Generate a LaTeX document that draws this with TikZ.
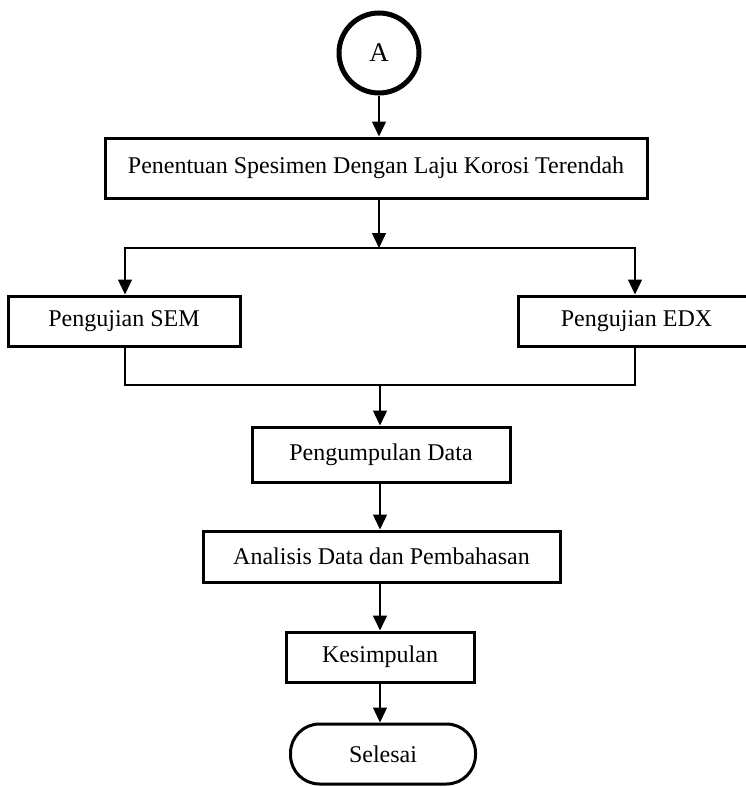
\documentclass[tikz,border=0pt]{standalone}
\usepackage{fontspec}
\setmainfont{Liberation Serif}
\usetikzlibrary{arrows.meta}
\begin{document}
\begin{tikzpicture}[x=1pt,y=-1pt,
  box/.style={draw,line width=3pt,rectangle,inner sep=0pt,font=\fontsize{24}{28}\selectfont},
  conn/.style={line width=1.4pt},
  arr/.style={line width=1.4pt,-{Triangle[width=14pt,length=15pt]}}]
\useasboundingbox (0,0) rectangle (746,787);
\clip (0,0) rectangle (746,787);
\node[draw,circle,line width=5pt,minimum size=80pt,inner sep=0pt,font=\fontsize{27}{30}\selectfont] (a) at (379,53) {A};
\node[box,minimum width=542pt,minimum height=60pt] (top) at (376,168) {Penentuan Spesimen Dengan Laju Korosi Terendah};
\node[box,minimum width=232pt,minimum height=50pt] (sem) at (124,321) {Pengujian SEM};
\node[box,minimum width=237pt,minimum height=50pt] (edx) at (636.5,321) {Pengujian EDX};
\node[box,minimum width=258pt,minimum height=55pt] (peng) at (381,454.5) {Pengumpulan Data};
\node[box,minimum width=357pt,minimum height=51pt] (anal) at (381.5,556.5) {Analisis Data dan Pembahasan};
\node[box,minimum width=188pt,minimum height=50pt] (kes) at (380,657) {Kesimpulan};
\node[box,rounded corners=29pt,minimum width=185pt,minimum height=60pt] (sel) at (383,754) {Selesai};
\coordinate (j1) at (379,248);
\coordinate (j2) at (380,385);
\draw[arr] (a.south) -- (a.south |- top.north);
\draw[arr] (top.south -| j1) -- (j1);
\draw[arr] (j1) -| ([xshift=1pt]sem.north);
\draw[arr] (j1) -| ([xshift=-1.5pt]edx.north);
\draw[conn] ([xshift=1pt]sem.south) |- (j2) -| ([xshift=-1.5pt]edx.south);
\draw[arr] (j2) -- (j2 |- peng.north);
\draw[arr] (peng.south -| j2) -- (j2 |- anal.north);
\draw[arr] (anal.south -| j2) -- (j2 |- kes.north);
\draw[arr] (kes.south -| j2) -- (j2 |- sel.north);
\end{tikzpicture}
\end{document}
